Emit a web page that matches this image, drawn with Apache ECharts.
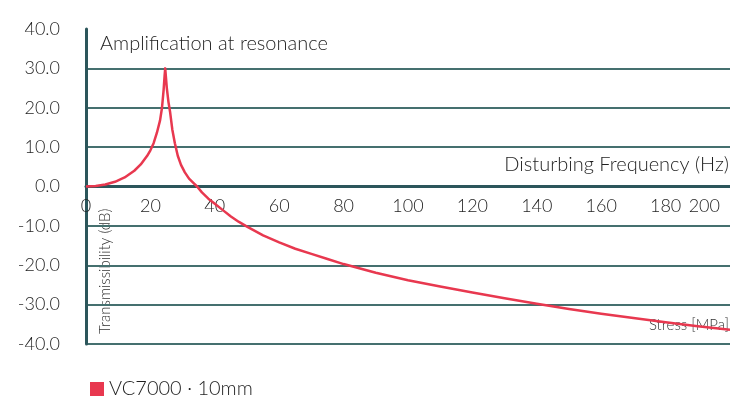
<!DOCTYPE html>
<html>
<head>
<meta charset="utf-8">
<script src="https://cdn.jsdelivr.net/npm/echarts@6/dist/echarts.min.js"></script>
<style>
  html, body { margin: 0; padding: 0; background: #fff; }
  #chart { width: 730px; height: 396px; }
</style>
</head>
<body>
<div id="chart"></div>
<script>
// Transmissibility curve of the VC7000 mount (10 mm), frequency in Hz vs. dB
const seriesName = 'VC7000 · 10mm';
const frequency = [0, 3, 6, 9, 12, 15, 17, 19, 20, 21, 22, 23, 23.6, 24.1, 24.4, 24.6, 24.8, 25.1, 25.6, 26.1, 26.8, 27.6, 28.5, 29.5, 30.7, 32, 33.5, 34.5, 36, 38, 40, 42.5, 45, 47.5, 50, 55, 60, 65, 70, 75, 80, 90, 100, 110, 120, 130, 140, 150, 160, 170, 180, 190, 200];
const transmissibility = [0, 0.1, 0.5, 1.2, 2.3, 4.0, 5.6, 7.8, 9.2, 11.0, 13.6, 16.8, 20.0, 24.5, 28.0, 30.0, 28.0, 25.0, 21.5, 19.0, 14.5, 11.0, 7.8, 5.5, 3.6, 2.0, 0.8, 0, -1.5, -3.1, -4.4, -6.0, -7.6, -9.0, -10.2, -12.4, -14.2, -15.8, -17.1, -18.4, -19.7, -21.9, -23.8, -25.4, -26.9, -28.4, -29.8, -31.1, -32.3, -33.4, -34.5, -35.5, -36.4];
const yTicks = { min: -40, max: 40, step: 10 };
const xTicks = { min: 0, max: 200, step: 20 };

const FONT = 'Lato, "Open Sans", sans-serif';
const TEXT = '#1f1f1f';
const SMALL_TEXT = '#333';
const AXIS = '#2c565b';
const GRID = '#45706f';
const RED = '#e8384f';

const GRID_TOP = 29, GRID_BOTTOM = 52;
const plotHeight = 396 - GRID_TOP - GRID_BOTTOM;
// distance of the zero line above the bottom edge of the plot
const zeroOffset = plotHeight * (0 - yTicks.min) / (yTicks.max - yTicks.min);

const points = frequency.map((f, i) => [f, transmissibility[i]]);

const chart = echarts.init(document.getElementById('chart'), null, { renderer: 'canvas' });
chart.setOption({
  animation: false,
  textStyle: { fontFamily: FONT },
  grid: { left: 86, right: 0, top: GRID_TOP, bottom: GRID_BOTTOM, containLabel: false },
  legend: {
    left: 85, top: 374,
    icon: 'rect', itemWidth: 14, itemHeight: 14, itemGap: 10,
    textStyle: { fontSize: 20, color: TEXT, fontFamily: FONT, fontWeight: 300 },
    data: [seriesName]
  },
  xAxis: {
    type: 'value',
    position: 'bottom',
    offset: -zeroOffset,
    min: xTicks.min, max: xTicks.max, interval: xTicks.step,
    axisLine: { onZero: false, lineStyle: { color: AXIS, width: 3 } },
    axisTick: { show: false },
    splitLine: { show: false },
    axisLabel: {
      fontSize: 18, color: TEXT, fontFamily: FONT, fontWeight: 300, margin: 11,
      alignMinLabel: 'center', alignMaxLabel: 'right',
      formatter: v => v === xTicks.max ? '{last|' + v + '}' : String(v),
      rich: { last: { fontSize: 18, color: TEXT, fontFamily: FONT, fontWeight: 300, padding: [0, 10, 0, 0] } }
    }
  },
  yAxis: {
    type: 'value',
    min: yTicks.min, max: yTicks.max, interval: yTicks.step,
    axisLine: { show: true, onZero: false, lineStyle: { color: AXIS, width: 3 } },
    axisTick: { show: false },
    splitLine: { show: true, showMaxLine: false, lineStyle: { color: GRID, width: 2 } },
    axisLabel: {
      fontSize: 18, color: TEXT, fontFamily: FONT, fontWeight: 300, margin: 26,
      padding: [0, 0, 11, 0],
      formatter: v => v.toFixed(1)
    }
  },
  series: [{
    name: seriesName,
    type: 'line',
    data: points,
    smooth: false,
    showSymbol: false,
    clip: false,
    color: RED,
    lineStyle: { color: RED, width: 2.5, join: 'round' },
    itemStyle: { color: RED }
  }],
  graphic: [
    { type: 'text', left: 100, top: 34,
      style: { text: 'Amplification at resonance', fontSize: 20, fill: TEXT, fontFamily: FONT, fontWeight: 300 } },
    { type: 'text', right: 1, top: 155,
      style: { text: 'Disturbing Frequency (Hz)', fontSize: 20, fill: TEXT, fontFamily: FONT, fontWeight: 300 } },
    { type: 'text', x: 105, y: 334, rotation: Math.PI / 2,
      style: { text: 'Transmissibility (dB)', fontSize: 15, fill: SMALL_TEXT, fontFamily: FONT, fontWeight: 300,
               align: 'left', verticalAlign: 'middle' } },
    { type: 'text', right: 1, top: 318,
      style: { text: 'Stress [MPa]', fontSize: 15, fill: SMALL_TEXT, fontFamily: FONT, fontWeight: 300 } }
  ]
});
</script>
</body>
</html>
